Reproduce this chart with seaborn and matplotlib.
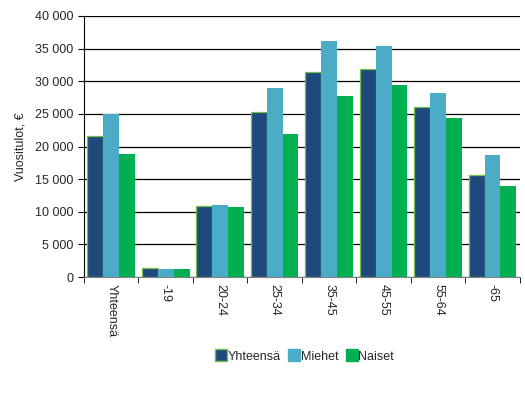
import pandas as pd
import matplotlib
matplotlib.use("Agg")
import matplotlib.pyplot as plt
import seaborn as sns
from matplotlib.ticker import FuncFormatter

groups = ["Yhteensä", "-19", "20-24", "25-34", "35-45", "45-55", "55-64", "-65"]
yhteensa = [21600, 1380, 10850, 25250, 31400, 31850, 26000, 15600]
miehet = [25000, 1250, 11050, 29000, 36200, 35450, 28250, 18750]
naiset = [18900, 1250, 10750, 21950, 27750, 29450, 24400, 13950]
series = ["Yhteensä", "Miehet", "Naiset"]
colors = ["#1F497D", "#4BACC6", "#00B050"]

df = pd.DataFrame({
    "ryhma": groups * 3,
    "sarja": sum([[s] * len(groups) for s in series], []),
    "arvo": yhteensa + miehet + naiset,
})

sns.set_style("white")
plt.rcParams["font.family"] = ["Liberation Sans", "DejaVu Sans"]

fig = plt.figure(figsize=(5.25, 4.0), dpi=100)
ax = fig.add_axes([0.16, 0.3075, 0.83, 0.6525])

sns.barplot(data=df, x="ryhma", y="arvo", hue="sarja", palette=colors,
            saturation=1, width=0.875, gap=0, errorbar=None, ax=ax,
            legend=False, linewidth=0, zorder=3)

# green outline on the dark bars
for p in ax.containers[0]:
    p.set_edgecolor("#6FBF4A")
    p.set_linewidth(0.9)

ax.set_ylim(0, 40000)
ax.set_xlim(-0.5, len(groups) - 0.5)
ax.set_yticks(range(0, 40001, 5000))
ax.yaxis.set_major_formatter(FuncFormatter(lambda v, _: f"{int(v):,}".replace(",", " ")))
ax.grid(axis="y", color="black", linewidth=0.9, zorder=0)
ax.set_axisbelow(True)

ax.set_xlabel("")
ax.set_ylabel("Vuositulot, €", fontsize=9, labelpad=6)
ax.tick_params(axis="y", labelsize=9, length=4, direction="out", left=True, color="black")
ax.tick_params(axis="x", labelsize=9, rotation=270, length=4, direction="out", bottom=True)
ax.set_xticks([i + 0.5 for i in range(-1, len(groups))], minor=True)
ax.tick_params(axis="x", which="major", length=0, pad=5)
ax.tick_params(axis="x", which="minor", length=4, direction="out", bottom=True, color="black")
for lbl in ax.get_xticklabels():
    lbl.set_va("top")

for s in ["top", "right"]:
    ax.spines[s].set_visible(False)
ax.spines["left"].set_color("black")
ax.spines["bottom"].set_color("#808080")

handles = [plt.Line2D([], [], marker="s", linestyle="", markersize=8,
                      markerfacecolor=c,
                      markeredgecolor=("#6FBF4A" if i == 0 else c))
           for i, c in enumerate(colors)]
fig.legend(handles, series, loc="center", bbox_to_anchor=(0.58, 0.108), ncol=3,
           frameon=False, fontsize=9, handletextpad=0.0, columnspacing=0.6,
           handlelength=1.0)

fig.savefig("out.png", dpi=100)
